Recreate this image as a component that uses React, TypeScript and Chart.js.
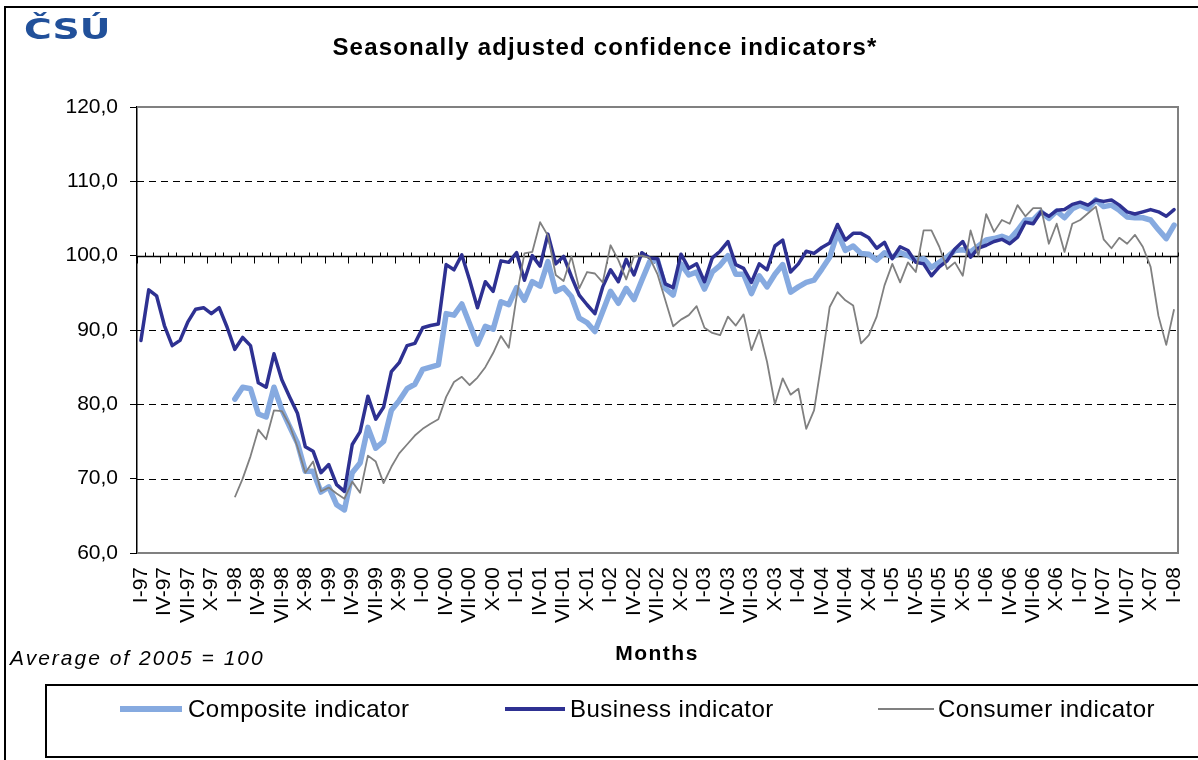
import React, { useEffect, useRef } from "react";
import { Chart, registerables } from "chart.js";

Chart.register(...registerables);

const MONTHS = ["I", "II", "III", "IV", "V", "VI", "VII", "VIII", "IX", "X", "XI", "XII"];
const YEARS = ["97", "98", "99", "00", "01", "02", "03", "04", "05", "06", "07", "08"];
const CATEGORIES: string[] = YEARS.flatMap((y) => MONTHS.map((m) => `${m}-${y}`)).slice(0, 133);

const BUSINESS = [
  88.6, 95.4, 94.6, 90.6, 87.9, 88.6, 91.1, 92.8, 93.0, 92.2, 93.0, 90.4,
  87.4, 89.0, 87.9, 82.9, 82.3, 86.8, 83.3, 81.0, 78.8, 74.3, 73.7, 70.8,
  71.9, 69.2, 68.3, 74.6, 76.3, 81.1, 78.0, 79.6, 84.4, 85.6, 87.9, 88.2,
  90.3, 90.6, 90.8, 98.8, 98.1, 100.1, 96.7, 93.0, 96.5, 95.2, 99.3, 99.1,
  100.4, 96.7, 100.0, 98.6, 102.9, 98.9, 99.9, 97.2, 94.7, 93.4, 92.2, 95.8,
  98.1, 96.5, 99.5, 97.4, 100.4, 99.7, 99.6, 96.2, 95.7, 100.2, 98.3, 98.9,
  96.5, 99.7, 100.6, 101.9, 98.8, 98.3, 96.4, 98.9, 98.1, 101.3, 102.1, 97.8,
  98.9, 100.6, 100.3, 101.1, 101.7, 104.2, 102.1, 103.0, 103.0, 102.4, 101.0, 101.8,
  99.6, 101.2, 100.7, 99.1, 98.9, 97.3, 98.5, 99.3, 100.9, 101.9, 99.8, 101.0,
  101.4, 101.9, 102.2, 101.6, 102.5, 104.5, 104.3, 105.9, 105.3, 106.1, 106.2, 106.9,
  107.2, 106.8, 107.5, 107.3, 107.5, 106.8, 105.9, 105.6, 105.9, 106.2, 105.9, 105.3,
  106.2,
];

// Composite and consumer series start in I-98
const COMPOSITE = [
  80.7, 82.3, 82.1, 78.7, 78.3, 82.3, 79.3, 77.0, 74.8, 71.0, 71.0, 68.2,
  68.9, 66.5, 65.8, 70.8, 72.1, 76.9, 74.1, 75.0, 79.2, 80.5, 82.1, 82.7,
  84.7, 85.0, 85.3, 92.2, 92.0, 93.5, 90.8, 88.1, 90.5, 90.1, 93.8, 93.4,
  95.7, 94.0, 96.5, 95.9, 99.2, 95.2, 95.7, 94.5, 91.6, 91.0, 89.8, 92.5,
  95.2, 93.6, 95.6, 94.1, 96.7, 99.2, 99.4, 95.6, 94.7, 98.9, 97.4, 97.8,
  95.5, 97.8, 98.7, 100.0, 97.5, 97.5, 94.9, 97.3, 95.8, 97.5, 98.8, 95.1,
  95.8, 96.4, 96.7, 98.2, 99.8, 103.1, 100.7, 101.3, 100.3, 100.2, 99.4, 100.4,
  99.8, 100.4, 100.0, 99.4, 99.6, 98.4, 99.1, 99.8, 100.7, 100.8, 100.5, 101.3,
  102.1, 102.3, 102.6, 102.2, 103.4, 104.8, 104.8, 105.9, 105.0, 106.0, 105.1, 106.3,
  106.8, 106.3, 107.5, 106.6, 106.8, 106.1, 105.2, 105.1, 105.1, 104.8, 103.5, 102.3,
  104.1,
];

const CONSUMER = [
  67.5, 70.0, 73.0, 76.6, 75.3, 79.2, 79.1, 77.2, 74.3, 70.8, 72.3, 68.3,
  68.8, 68.0, 67.3, 69.6, 68.1, 73.1, 72.3, 69.4, 71.6, 73.4, 74.6, 75.8,
  76.7, 77.4, 78.0, 81.0, 83.0, 83.7, 82.6, 83.6, 85.0, 86.9, 89.2, 87.6,
  94.5, 100.3, 100.5, 104.5, 102.7, 97.4, 96.6, 99.9, 95.6, 97.8, 97.6, 96.4,
  101.4, 99.4, 96.8, 99.9, 100.0, 99.7, 97.5, 94.0, 90.5, 91.4, 92.0, 93.2,
  90.3, 89.6, 89.3, 91.8, 90.6, 92.1, 87.3, 90.0, 85.7, 80.0, 83.5, 81.3,
  82.1, 76.7, 79.2, 85.9, 93.1, 95.1, 94.0, 93.3, 88.2, 89.3, 91.8, 96.0,
  98.9, 96.4, 99.1, 97.8, 103.4, 103.4, 101.2, 98.2, 99.1, 97.3, 103.4, 100.0,
  105.6, 103.2, 104.8, 104.3, 106.8, 105.3, 106.4, 106.4, 101.6, 104.3, 100.5, 104.3,
  104.8, 105.7, 106.6, 102.2, 101.0, 102.4, 101.6, 102.8, 101.2, 98.5, 91.9, 88.0,
  92.8,
];

const LEAD = CATEGORIES.length - COMPOSITE.length;
const padSeries = (arr: number[]) => [...Array(LEAD).fill(null), ...arr];

const Y_MIN = 60;
const Y_MAX = 120;
const Y_STEP = 10;
const Y_BASE = 100;
const DASHED_LEVELS = [70, 80, 90, 110];

const FONT = "'Liberation Sans', Arial, sans-serif";
const C_COMPOSITE = "#86AAE0";
const C_BUSINESS = "#2E3192";
const C_CONSUMER = "#808080";

const decoPlugin = {
  id: "deco",
  beforeDatasetsDraw(chart: any) {
    const { ctx, chartArea: a, scales } = chart;
    const x = scales.x;
    const y = scales.y;
    ctx.save();
    // dashed grid lines
    ctx.strokeStyle = "#000";
    ctx.lineWidth = 1;
    ctx.setLineDash([7, 5]);
    for (const v of DASHED_LEVELS) {
      const py = Math.round(y.getPixelForValue(v)) + 0.5;
      ctx.beginPath();
      ctx.moveTo(a.left, py);
      ctx.lineTo(a.right, py);
      ctx.stroke();
    }
    ctx.setLineDash([]);
    // plot frame (top, right, bottom)
    ctx.strokeStyle = "#808080";
    ctx.lineWidth = 2;
    const top = y.getPixelForValue(Y_MAX);
    const bot = y.getPixelForValue(Y_MIN);
    ctx.beginPath();
    ctx.moveTo(a.left, top);
    ctx.lineTo(a.right, top);
    ctx.lineTo(a.right, bot);
    ctx.lineTo(a.left, bot);
    ctx.stroke();
    // category axis crossing at 100
    const py = Math.round(y.getPixelForValue(Y_BASE)) + 0.5;
    ctx.strokeStyle = "#000";
    ctx.lineWidth = 1.5;
    ctx.beginPath();
    ctx.moveTo(a.left, py);
    ctx.lineTo(a.right, py);
    ctx.stroke();
    ctx.lineWidth = 1;
    const n = CATEGORIES.length;
    for (let k = 0; k <= n; k++) {
      const px = Math.round(x.getPixelForValue(k - 0.5)) + 0.5;
      ctx.beginPath();
      if (k % 3 === 0) {
        ctx.moveTo(px, py);
        ctx.lineTo(px, py + 7);
      } else {
        ctx.moveTo(px, py - 4);
        ctx.lineTo(px, py);
      }
      ctx.stroke();
    }
    ctx.restore();
  },
};

function ChartCanvas() {
  const ref = useRef<HTMLCanvasElement | null>(null);
  useEffect(() => {
    if (!ref.current) return;
    Chart.defaults.font.family = FONT;
    const chart = new Chart(ref.current, {
      type: "line",
      data: {
        labels: CATEGORIES,
        datasets: [
          {
            label: "Composite indicator",
            data: padSeries(COMPOSITE),
            borderColor: C_COMPOSITE,
            backgroundColor: C_COMPOSITE,
            borderWidth: 5.5,
            pointRadius: 0,
            tension: 0,
            borderJoinStyle: "round",
            borderCapStyle: "round",
            order: 2,
          },
          {
            label: "Business indicator",
            data: BUSINESS,
            borderColor: C_BUSINESS,
            backgroundColor: C_BUSINESS,
            borderWidth: 3.5,
            pointRadius: 0,
            tension: 0,
            borderJoinStyle: "round",
            borderCapStyle: "round",
            order: 1,
          },
          {
            label: "Consumer indicator",
            data: padSeries(CONSUMER),
            borderColor: C_CONSUMER,
            backgroundColor: C_CONSUMER,
            borderWidth: 1.8,
            pointRadius: 0,
            tension: 0,
            borderJoinStyle: "round",
            order: 0,
          },
        ],
      },
      options: {
        animation: false,
        responsive: false,
        devicePixelRatio: 1,
        layout: { padding: { left: 67, right: 20, top: 107, bottom: 107 } },
        plugins: {
          legend: { display: false },
          tooltip: { enabled: false },
          title: { display: false },
        },
        scales: {
          x: {
            type: "category",
            offset: true,
            grid: { display: false, drawTicks: false },
            border: { display: false },
            ticks: {
              autoSkip: false,
              minRotation: 90,
              maxRotation: 90,
              padding: 14,
              color: "#000",
              font: { size: 21, family: FONT },
              callback: (_v: any, i: number) => (i % 3 === 0 ? CATEGORIES[i] : ""),
            },
            afterFit: (s: any) => {
              s.height = 100;
              s.paddingLeft = 0;
              s.paddingRight = 0;
            },
          },
          y: {
            min: Y_MIN,
            max: Y_MAX,
            grid: {
              drawOnChartArea: false,
              drawTicks: true,
              tickLength: 7,
              color: "#000",
            },
            border: { display: true, color: "#000", width: 1.5 },
            ticks: {
              stepSize: Y_STEP,
              padding: 12,
              color: "#000",
              font: { size: 21, family: FONT },
              callback: (v: any) => Number(v).toFixed(1).replace(".", ","),
            },
            afterFit: (s: any) => {
              s.width = 70;
              s.paddingTop = 0;
              s.paddingBottom = 0;
            },
          },
        },
      },
      plugins: [decoPlugin],
    });
    return () => chart.destroy();
  }, []);
  return (
    <canvas
      ref={ref}
      width={1198}
      height={760}
      style={{ position: "absolute", left: 0, top: 0, width: 1198, height: 760 }}
    />
  );
}

const legendItems = [
  { label: "Composite indicator", color: C_COMPOSITE, width: 6, lineLeft: 120, lineW: 62, textLeft: 188 },
  { label: "Business indicator", color: C_BUSINESS, width: 4, lineLeft: 505, lineW: 60, textLeft: 570 },
  { label: "Consumer indicator", color: C_CONSUMER, width: 2, lineLeft: 878, lineW: 56, textLeft: 938 },
];

export default function App() {
  return (
    <div
      style={{
        position: "fixed",
        left: 0,
        top: 0,
        width: 1198,
        height: 760,
        overflow: "hidden",
        background: "#fff",
        fontFamily: FONT,
        color: "#000",
      }}
    >
      <div
        style={{
          position: "absolute",
          left: 4,
          top: 6,
          width: 1400,
          height: 1000,
          border: "2px solid #000",
        }}
      />
      <ChartCanvas />
      <div
        style={{
          position: "absolute",
          left: 24,
          top: 13,
          fontFamily: "'DejaVu Sans', sans-serif",
          fontWeight: 900,
          fontSize: 28,
          color: "#21509A",
          transform: "scaleX(1.35)",
          transformOrigin: "left top",
          lineHeight: "34px",
        }}
      >
        ČSÚ
      </div>
      <div
        style={{
          position: "absolute",
          left: 0,
          width: 1210,
          top: 33,
          textAlign: "center",
          fontWeight: "bold",
          fontSize: 24,
          letterSpacing: 1.2,
          lineHeight: "28px",
        }}
      >
        Seasonally adjusted confidence indicators*
      </div>
      <div
        style={{
          position: "absolute",
          left: 557,
          width: 200,
          top: 640,
          textAlign: "center",
          fontWeight: "bold",
          fontSize: 21,
          letterSpacing: 1.5,
          lineHeight: "26px",
        }}
      >
        Months
      </div>
      <div
        style={{
          position: "absolute",
          left: 10,
          top: 645,
          fontStyle: "italic",
          fontSize: 21,
          letterSpacing: 2,
          lineHeight: "26px",
        }}
      >
        Average of 2005 = 100
      </div>
      <div
        style={{
          position: "absolute",
          left: 45,
          top: 684,
          width: 1300,
          height: 70,
          border: "2px solid #000",
        }}
      />
      {legendItems.map((it) => (
        <React.Fragment key={it.label}>
          <div
            style={{
              position: "absolute",
              left: it.lineLeft,
              top: 709 - it.width / 2,
              width: it.lineW,
              height: it.width,
              background: it.color,
            }}
          />
          <div
            style={{
              position: "absolute",
              left: it.textLeft,
              top: 694,
              fontSize: 24,
              letterSpacing: 0.5,
              lineHeight: "30px",
              whiteSpace: "nowrap",
            }}
          >
            {it.label}
          </div>
        </React.Fragment>
      ))}
    </div>
  );
}
